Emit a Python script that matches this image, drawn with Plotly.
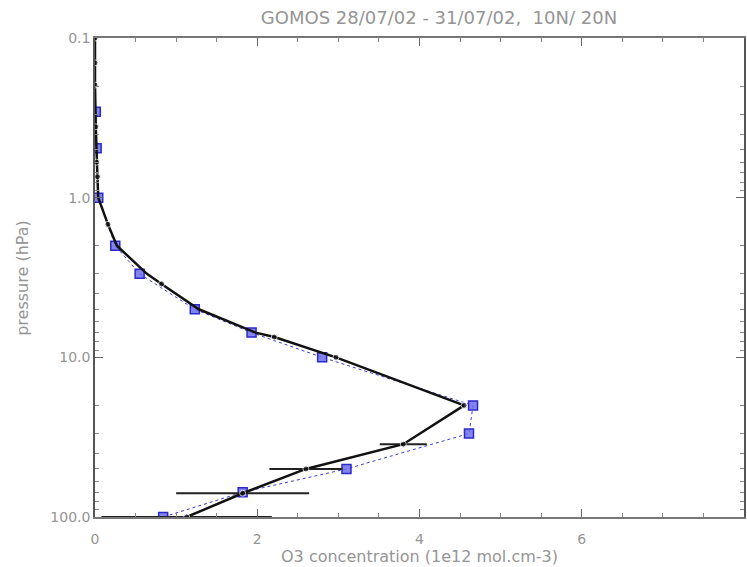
import plotly.graph_objects as go

# GOMOS profile (black line, with error bars); marked levels flagged in gomos_mark
gomos_x = [0.0, 0.0, 0.0, 0.01, 0.02, 0.03, 0.04, 0.16, 0.27, 0.64, 0.82, 1.28, 1.98, 2.21, 2.97, 4.55, 3.80, 2.60, 1.82, 1.13]
gomos_p = [0.1, 0.143, 0.197, 0.36, 0.6, 0.74, 1.0, 1.47, 2.0, 3.0, 3.47, 5.0, 7.0, 7.46, 10.0, 20.0, 35.0, 50.0, 71.0, 100.0]
gomos_mark = [1, 1, 1, 1, 1, 1, 0, 1, 0, 0, 1, 0, 0, 1, 1, 1, 1, 1, 1, 1]
gomos_err = [0, 0, 0, 0, 0, 0, 0, 0, 0, 0, 0, 0, 0, 0, 0, 0, 0.29, 0.45, 0.82, 1.05]

# Comparison profile (blue squares, dotted)
ref_x = [0.01, 0.02, 0.04, 0.25, 0.55, 1.23, 1.93, 2.80, 4.66, 4.61, 3.10, 1.82, 0.84]
ref_p = [0.29, 0.49, 1.0, 2.0, 3.0, 5.0, 7.0, 10.0, 20.0, 30.0, 50.0, 70.0, 100.0]

ytick_vals = [0.1, 1.0, 10.0, 100.0]
ytick_text = ["0.1", "1.0", "10.0", "100.0"]
xtick_vals = [0, 2, 4, 6, 8]

title_text = "GOMOS 28/07/02 - 31/07/02,  10N/ 20N"
xlabel = "O3 concentration (1e12 mol.cm-3)"
ylabel = "pressure (hPa)"

gray = "#959595"
font_family = "DejaVu Sans, Verdana, sans-serif"

fig = go.Figure()

fig.add_trace(go.Scatter(
    x=ref_x, y=ref_p, mode="lines+markers",
    line=dict(color="#3a3ad8", width=1, dash="dot"),
    marker=dict(symbol="square", size=9, color="rgba(110,110,235,0.85)",
                line=dict(color="#2a2acc", width=1.5)),
    showlegend=False,
))

fig.add_trace(go.Scatter(
    x=gomos_x, y=gomos_p, mode="lines+markers",
    line=dict(color="#111111", width=2.5),
    marker=dict(symbol="circle", size=[6 * m for m in gomos_mark], color="#111111"),
    error_x=dict(type="data", array=gomos_err, visible=True, color="#222222",
                 thickness=2, width=0),
    showlegend=False,
))

fig.update_layout(
    width=747, height=567,
    margin=dict(l=95, r=1, t=38, b=50),
    paper_bgcolor="white", plot_bgcolor="white",
    font=dict(family=font_family, color=gray, size=14),
    title=dict(text=title_text, x=439/747, xref="container", xanchor="center",
               y=1 - 18/567, yref="container", yanchor="middle",
               font=dict(size=18, color=gray, family=font_family)),
    xaxis=dict(
        range=[0, 8], tickvals=xtick_vals, ticks="inside", ticklen=8,
        tickcolor="#666", showline=True, linecolor="#777", linewidth=1.5,
        mirror="allticks", showgrid=False, zeroline=False,
        minor=dict(dtick=0.5, ticks="inside", ticklen=4, tickcolor="#888"),
        title=dict(text=xlabel, font=dict(size=16, color=gray), standoff=0),
        tickfont=dict(size=14, color=gray),
        ticklabelstandoff=8,
    ),
    yaxis=dict(
        type="log", range=[2, -1], tickvals=ytick_vals, ticktext=ytick_text,
        ticks="inside", ticklen=8, tickcolor="#666",
        showline=True, linecolor="#555", linewidth=1.5, mirror="allticks",
        showgrid=False, zeroline=False,
        minor=dict(dtick="D1", ticks="inside", ticklen=4, tickcolor="#888"),
        tickfont=dict(size=14, color=gray),
    ),
    annotations=[dict(
        text=ylabel, textangle=-90, xref="paper", yref="paper",
        x=-0.112, y=0.5, xanchor="center", yanchor="middle", showarrow=False,
        font=dict(size=16, color=gray),
    )],
)

fig.write_html("out.html")
